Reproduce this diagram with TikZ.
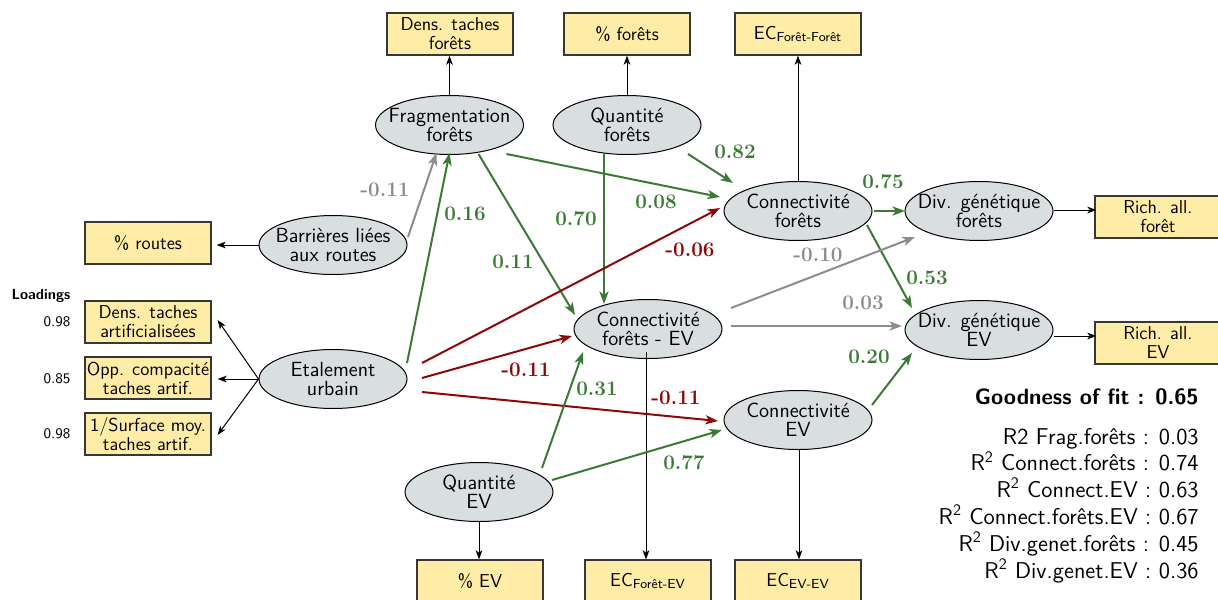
\documentclass[tikz,border=0pt]{standalone}
\usetikzlibrary{shapes.geometric,arrows.meta,calc}
\definecolor{boxfill}{RGB}{255,236,166}
\definecolor{boxline}{RGB}{55,55,55}
\definecolor{ellfill}{RGB}{217,223,225}
\definecolor{pgreen}{RGB}{58,122,52}
\definecolor{pred}{RGB}{140,8,8}
\definecolor{pgray}{RGB}{140,140,140}
\begin{document}
\begin{tikzpicture}[x=0.6pt,y=-0.6pt,
  font=\sffamily,
  lat/.style={ellipse, draw=black, line width=0.6pt, fill=ellfill, minimum width=88.8pt, minimum height=35.4pt, inner sep=0pt},
  lbl/.style={align=center, inner sep=0pt, font=\sffamily\fontsize{12.3}{11.4}\selectfont},
  mv/.style={rectangle, draw=boxline, line width=0.7pt, fill=boxfill, minimum width=75.6pt, minimum height=25.2pt, inner sep=0pt, align=center, font=\sffamily\fontsize{11.2}{11.4}\selectfont},
  ln/.style={draw=black, line width=0.6pt, -{Stealth[length=5.5pt,width=4pt,inset=1.5pt]}},
  pthbase/.style={line width=1.2pt, -{Stealth[length=7.5pt,width=5.5pt,inset=2pt]}},
  pospath/.style={pthbase, color=pgreen},
  negpath/.style={pthbase, color=pred},
  nspath/.style={pthbase, color=pgray},
  coef/.style={inner sep=0pt, font=\rmfamily\bfseries\fontsize{12.4}{13}\selectfont},
  rsq/.style={inner sep=0pt, anchor=base east, font=\sffamily\fontsize{13.7}{15}\selectfont}
]
\clip (0,0) rectangle (1218,600);

% latent variables
\node[lat] (F) at (449.5,125) {};
\node[lbl] (Ft) at (F) {Fragmentation\\forêts};
\node[lat] (QF) at (627,125) {};
\node[lbl] (QFt) at (QF) {Quantité\\forêts};
\node[lat] (B) at (333,245) {};
\node[lbl] (Bt) at (B) {Barrières liées\\aux routes};
\node[lat] (E) at (333,379) {};
\node[lbl] (Et) at (E) {Etalement\\urbain};
\node[lat] (CF) at (798,211) {};
\node[lbl] (CFt) at (CF) {Connectivité\\forêts};
\node[lat] (CFE) at (648,329) {};
\node[lbl] (CFEt) at (CFE) {Connectivité\\forêts - EV};
\node[lat] (CE) at (798,420) {};
\node[lbl] (CEt) at (CE) {Connectivité\\EV};
\node[lat] (QE) at (479,492) {};
\node[lbl] (QEt) at (QE) {Quantité\\EV};
\node[lat] (DF) at (979,211) {};
\node[lbl] (DFt) at (DF) {Div. génétique\\forêts};
\node[lat] (DE) at (979,330) {};
\node[lbl] (DEt) at (DE) {Div. génétique\\EV};

% manifest variables
\node[mv] (bDT) at (450,34) {Dens. taches\\forêts};
\node[mv] (bPF) at (627,34) {\% forêts};
\node[mv] (bECFF) at (798,34) {EC\textsubscript{Forêt-Forêt}};
\node[mv] (bR) at (148,243) {\% routes};
\node[mv] (bDA) at (148,322) {Dens. taches\\artificialisées};
\node[mv] (bOC) at (148,378) {Opp. compacité\\taches artif.};
\node[mv] (bSM) at (148,434) {1/Surface moy.\\taches artif.};
\node[mv] (bRF) at (1158,217) {Rich. all.\\forêt};
\node[mv] (bRE) at (1158,343) {Rich. all.\\EV};
\node[mv] (bPE) at (480,581) {\% EV};
\node[mv] (bECFE) at (648,581) {EC\textsubscript{Forêt-EV}};
\node[mv] (bECEE) at (798,581) {EC\textsubscript{EV-EV}};

% loadings
\node[inner sep=0pt, font=\sffamily\bfseries\fontsize{8.8}{10}\selectfont] (ld) at (41,296) {Loadings};
\node[inner sep=0pt, font=\sffamily\fontsize{8.8}{10}\selectfont] (ld1) at (57,322) {0.98};
\node[inner sep=0pt, font=\sffamily\fontsize{8.8}{10}\selectfont] (ld2) at (57,379) {0.85};
\node[inner sep=0pt, font=\sffamily\fontsize{8.8}{10}\selectfont] (ld3) at (57,434) {0.98};

% measurement arrows
\draw[ln] (F.north) -- (F.north |- bDT.south);
\draw[ln] (QF.north) -- (QF.north |- bPF.south);
\draw[ln] (CF.north) -- (CF.north |- bECFF.south);
\draw[ln] (B.west) -- ($(bR.east)+(5,2)$);
\draw[ln] (E.west) -- ($(bDA.east)+(6,-2)$);
\draw[ln] (E.west) -- ($(bOC.east)+(6,1)$);
\draw[ln] (E.west) -- ($(bSM.east)+(6,1)$);
\draw[ln] (QE.south) -- (QE.south |- bPE.north);
\draw[ln] ($(CFE)+(-2,23)$) -- ($(bECFE.north)+(-2,0)$);
\draw[ln] ($(CE.south)+(1,0)$) -- ($(bECEE.north)+(1,0)$);
\draw[ln] ($(DF.east)+(0,-1)$) -- ($(bRF.west)+(2,-7)$);
\draw[ln] ($(DE.east)+(0,6)$) -- ($(bRE.west)+(2,-7)$);

% structural paths
\draw[nspath]  ($(B)+(75,-8)$)   -- ($(F)+(-13,28)$);
\draw[pospath] ($(E)+(74,-16)$)  -- ($(F)+(0,28)$);
\draw[pospath] ($(F)+(29,29)$)   -- ($(CFE)+(-73,-14)$);
\draw[pospath] ($(F)+(57,29)$)   -- ($(CF)+(-78,-14)$);
\draw[pospath] ($(QF)+(61,29)$)  -- ($(CF)+(-65,-28)$);
\draw[pospath] ($(QF)+(-23,29)$) -- ($(CFE)+(-44,-25)$);
\draw[negpath] ($(E)+(89,-16)$)  -- ($(CF)+(-78,-3)$);
\draw[negpath] ($(E)+(89,-1)$)   -- ($(CFE)+(-76,7)$);
\draw[negpath] ($(E)+(89,13)$)   -- ($(CE)+(-80,1)$);
\draw[pospath] ($(QE)+(63,-24)$) -- ($(CFE)+(-65,23)$);
\draw[pospath] ($(QE)+(73,-12)$) -- ($(CE)+(-76,10)$);
\draw[pospath] ($(CF)+(76,0)$)   -- ($(DF)+(-74,0)$);
\draw[pospath] ($(CF)+(69,14)$)  -- ($(DE)+(-67,-22)$);
\draw[nspath]  ($(CFE)+(83,-21)$) -- ($(DF)+(-64,26)$);
\draw[nspath]  ($(CFE)+(83,-3)$) -- ($(DE)+(-77,-4)$);
\draw[pospath] ($(CE)+(74,-15)$) -- ($(DE)+(-67,23)$);

% coefficients
\node[coef, pgray]  (l1)  at (385,190) {-0.11};
\node[coef, pgreen] (l2)  at (465,214) {0.16};
\node[coef, pgreen] (l3)  at (513,262) {0.11};
\node[coef, pgreen] (l4)  at (576,219) {0.70};
\node[coef, pgreen] (l5)  at (656,202) {0.08};
\node[coef, pgreen] (l6)  at (735,152) {0.82};
\node[coef, pred]   (l7)  at (690,250) {-0.06};
\node[coef, pgreen] (l8)  at (883,182) {0.75};
\node[coef, pgray]  (l9)  at (818,255) {-0.10};
\node[coef, pgreen] (l10) at (927,278) {0.53};
\node[coef, pgray]  (l11) at (863,303) {0.03};
\node[coef, pred]   (l12) at (526,370) {-0.11};
\node[coef, pgreen] (l13) at (597,389) {0.31};
\node[coef, pred]   (l14) at (676,398) {-0.11};
\node[coef, pgreen] (l15) at (869,357) {0.20};
\node[coef, pgreen] (l16) at (684,463) {0.77};

% fit statistics
\node[inner sep=0pt, anchor=base east, font=\sffamily\bfseries\fontsize{13.3}{15}\selectfont] (gof) at (1199,404) {Goodness of fit : 0.65};
\node[rsq] (r1) at (1199,444) {R2 Frag.forêts : 0.03};
\node[rsq] (r2) at (1199,470.8) {R\textsuperscript{2} Connect.forêts : 0.74};
\node[rsq] (r3) at (1199,497.6) {R\textsuperscript{2} Connect.EV : 0.63};
\node[rsq] (r4) at (1199,524.4) {R\textsuperscript{2} Connect.forêts.EV : 0.67};
\node[rsq] (r5) at (1199,551.2) {R\textsuperscript{2} Div.genet.forêts : 0.45};
\node[rsq] (r6) at (1199,578) {R\textsuperscript{2} Div.genet.EV : 0.36};
\end{tikzpicture}
\end{document}
